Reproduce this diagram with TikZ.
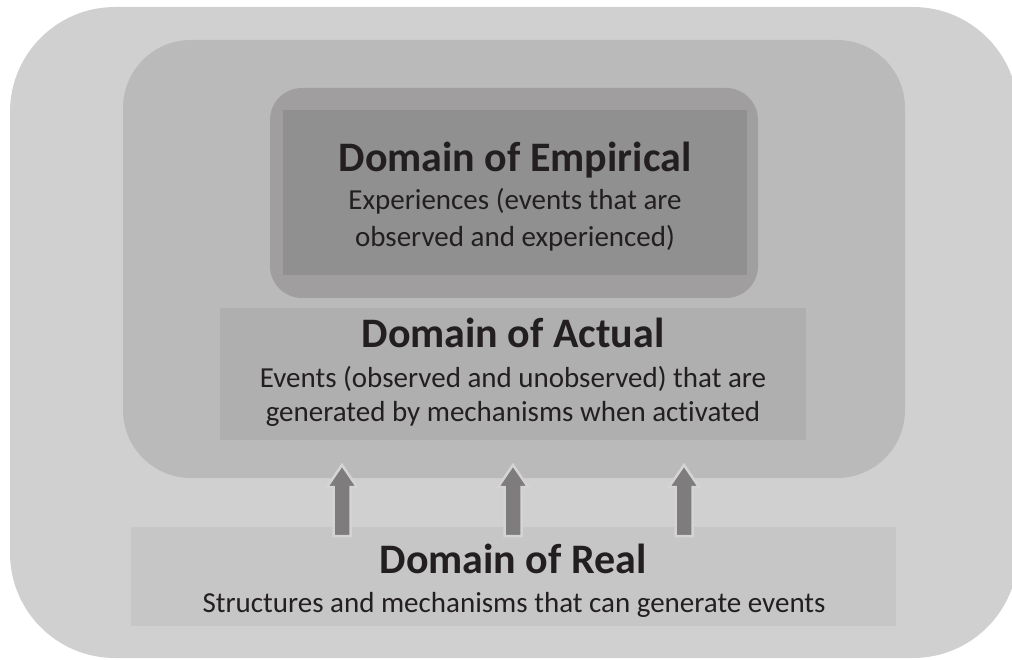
\documentclass[tikz,border=0pt]{standalone}
\usepackage{fontspec}
\setmainfont{Carlito}[Ligatures=NoCommon]
\usetikzlibrary{calc}
\definecolor{outerc}{HTML}{D0D0D0}
\definecolor{innerc}{HTML}{BABABA}
\definecolor{empo}{HTML}{A19E9F}
\definecolor{empi}{HTML}{8F908F}
\definecolor{actc}{HTML}{AFAFAF}
\definecolor{realc}{HTML}{C6C6C6}
\definecolor{arrf}{HTML}{7E7C7D}
\definecolor{arro}{HTML}{D4D4D4}
\definecolor{txt}{HTML}{231F20}
\tikzset{
  title/.style={font=\bfseries\fontsize{42}{44}\selectfont, text=txt, inner sep=0pt, anchor=base},
  body/.style={font=\fontsize{29}{38}\selectfont, text=txt, inner sep=0pt, anchor=base, align=center},
  blockarrow/.style={fill=arrf, draw=arro, line width=2.5pt, line join=miter}
}
\begin{document}
\begin{tikzpicture}[x=1pt,y=-1pt]
\useasboundingbox (0,0) rectangle (1012,660);
\clip (0,0) rectangle (1012,660);
\fill[white] (0,0) rectangle (1012,660);
% outer
\fill[outerc, rounded corners=105pt] (10,7) rectangle (1018,658);
% inner
\fill[innerc, rounded corners=68pt] (123,40) rectangle (905,478);
% empirical
\fill[empo, rounded corners=32pt] (270,88) rectangle (758,298);
\fill[empi] (283,110) rectangle (747,275);
% actual
\fill[actc] (220,308) rectangle (806,440);
% real
\fill[realc] (131,527) rectangle (896,626);
% texts
\node[title] (empT) at (515,172) {Domain of Empirical};
\node[body] (empB) at (515,210) {Experiences (events that are};
\node[body] (empB2) at (515,247) {observed and experienced)};
\node[title] (actT) at (513,348) {Domain of Actual};
\node[body] (actB) at (513,387) {Events (observed and unobserved) that are};
\node[body] (actB2) at (513,421) {generated by mechanisms when activated};
\node[title] (realT) at (513,573) {Domain of Real};
\node[body] (realB) at (514,612) {Structures and mechanisms that can generate events};
% arrows
\foreach \n/\cx in {a1/342,a2/513,a3/684}{
  \coordinate (\n) at (\cx,536);
  \draw[blockarrow] ($(\n)+(-8.5,0)$) -- ($(\n)+(-8.5,-49)$) -- ($(\n)+(-15,-49)$)
     -- ($(\n)+(0,-71)$) -- ($(\n)+(15,-49)$) -- ($(\n)+(8.5,-49)$) -- ($(\n)+(8.5,0)$) -- cycle;
}
\end{tikzpicture}
\end{document}
